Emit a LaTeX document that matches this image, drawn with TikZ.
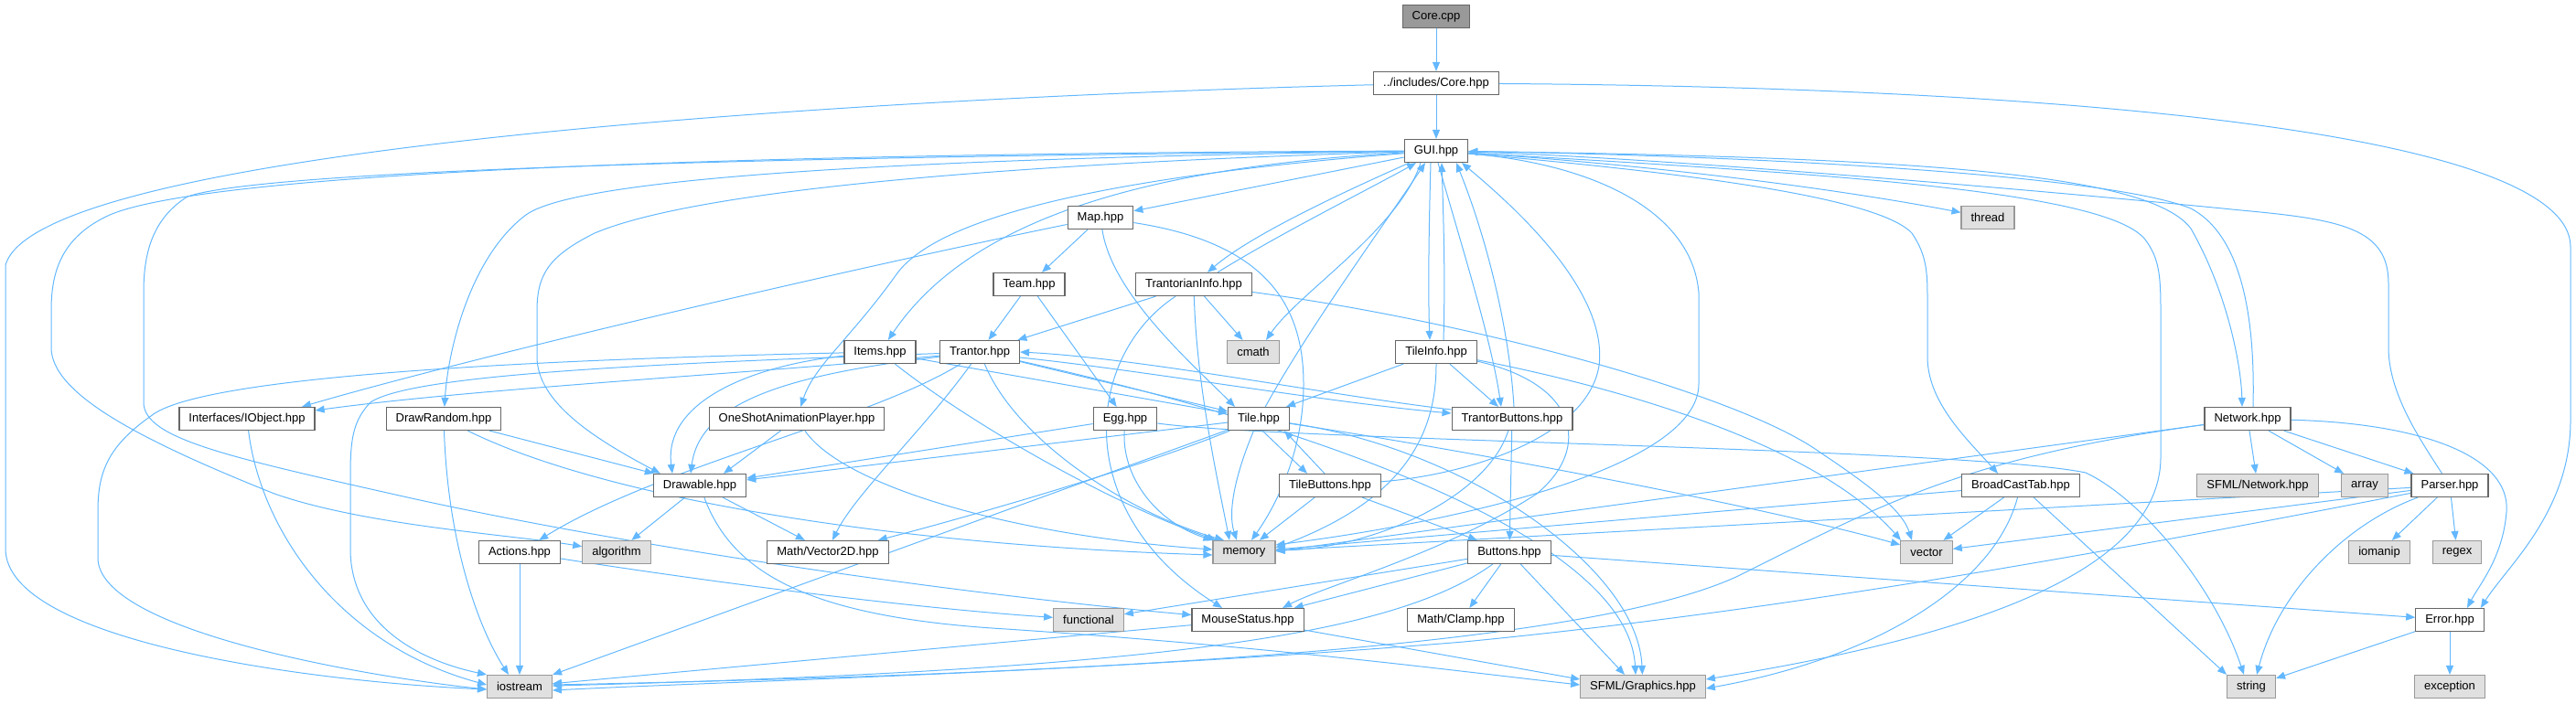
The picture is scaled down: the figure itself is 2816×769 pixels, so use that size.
\documentclass[tikz,border=0pt]{standalone}
\usepackage{fontspec}
\setmainfont{Liberation Sans}
\usetikzlibrary{arrows.meta,backgrounds}
\definecolor{edgeblue}{HTML}{63B8FF}
\definecolor{boxline}{HTML}{666666}
\definecolor{sysfill}{HTML}{E0E0E0}
\definecolor{sysline}{HTML}{999999}

\begin{document}
\begin{tikzpicture}[x=1pt, y=-1pt,
  hdr/.style={draw=boxline, fill=white, line width=1.2pt, font=\fontsize{13}{15}\selectfont,
              inner xsep=10.5pt, inner ysep=0pt, minimum height=25pt},
  sys/.style={hdr, draw=sysline, fill=sysfill},
  src/.style={hdr, fill=sysline},
  ar/.style={draw=edgeblue, line width=1pt, -{Triangle[length=10pt,width=8pt]}},
]
\useasboundingbox (0,0) rectangle (2816,769);

% Fichiers
\node[src] (core) at (1570,18) {Core.cpp};
\node[hdr] (corehpp) at (1570,91) {../includes/Core.hpp};
\node[hdr] (gui) at (1570,165) {GUI.hpp};
\node[hdr] (map) at (1203,238) {Map.hpp};
\node[sys] (thread) at (2173,238) {thread};
\node[hdr] (team) at (1125,311) {Team.hpp};
\node[hdr] (tinfo) at (1305,311) {TrantorianInfo.hpp};
\node[hdr] (items) at (962,385) {Items.hpp};
\node[hdr] (trantor) at (1071,385) {Trantor.hpp};
\node[sys] (cmath) at (1370,385) {cmath};
\node[hdr] (tileinfo) at (1570,385) {TileInfo.hpp};
\node[hdr] (iobject) at (270,458) {Interfaces/IObject.hpp};
\node[hdr] (drawrandom) at (485,458) {DrawRandom.hpp};
\node[hdr] (oneshot) at (871,458) {OneShotAnimationPlayer.hpp};
\node[hdr] (egg) at (1230,458) {Egg.hpp};
\node[hdr] (tile) at (1376,458) {Tile.hpp};
\node[hdr] (tbuttons) at (1653,458) {TrantorButtons.hpp};
\node[hdr] (network) at (2457,458) {Network.hpp};
\node[hdr] (drawable) at (765,531) {Drawable.hpp};
\node[hdr] (tilebuttons) at (1454,531) {TileButtons.hpp};
\node[hdr] (broadcast) at (2209,531) {BroadCastTab.hpp};
\node[sys] (sfnet) at (2468,531) {SFML/Network.hpp};
\node[sys] (array) at (2585,531) {array};
\node[hdr] (parser) at (2678,531) {Parser.hpp};
\node[hdr] (actions) at (568,604) {Actions.hpp};
\node[sys] (algorithm) at (674,604) {algorithm};
\node[hdr] (vector2d) at (905,604) {Math/Vector2D.hpp};
\node[sys] (memory) at (1360,604) {memory};
\node[hdr] (buttons) at (1650,604) {Buttons.hpp};
\node[sys] (vector) at (2106,604) {vector};
\node[sys] (iomanip) at (2601,604) {iomanip};
\node[sys] (regex) at (2686,604) {regex};
\node[sys] (functional) at (1190,678) {functional};
\node[hdr] (mouse) at (1364,678) {MouseStatus.hpp};
\node[hdr] (clamp) at (1597,678) {Math/Clamp.hpp};
\node[hdr] (error) at (2678,678) {Error.hpp};
\node[sys] (iostream) at (568,751) {iostream};
\node[sys] (sfgraphics) at (1796,751) {SFML/Graphics.hpp};
\node[sys] (string) at (2461,751) {string};
\node[sys] (exception) at (2678,751) {exception};

\begin{scope}[on background layer]
% Core
\draw[ar] (core) -- (corehpp);
\draw[ar] (corehpp) -- (gui);
\draw[ar] (corehpp) .. controls (900,108) and (40,165) .. (6,290) -- (6,600) .. controls (6,700) and (330,745) .. ([yshift=-3pt]iostream.west);
\draw[ar] (corehpp) .. controls (2300,96) and (2810,150) .. (2810,270) -- (2810,460) .. controls (2810,560) and (2740,620) .. ([xshift=-4pt]error.north east);

% GUI vers la gauche
\draw[ar] (gui) -- (map);
\draw[ar] (gui) .. controls (1250,183) and (1060,240) .. (items);
\draw[ar] (gui) .. controls (1250,190) and (1030,230) .. (980,300) .. controls (930,370) and (890,400) .. (oneshot);
\draw[ar] (gui) .. controls (1100,172) and (640,188) .. (575,235) .. controls (515,280) and (490,380) .. (drawrandom);
\draw[ar] (gui) .. controls (1200,176) and (780,200) .. (650,255) .. controls (600,280) and (587,300) .. (587,340) -- (587,390) .. controls (587,440) and (650,480) .. ([xshift=8pt]drawable.north west);
\draw[ar] (gui) .. controls (1000,167) and (250,180) .. (120,235) .. controls (65,260) and (56,300) .. (56,340) -- (56,380) .. controls (56,430) and (150,480) .. (300,540) .. controls (400,575) and (560,585) .. (algorithm);
\draw[ar] (gui) .. controls (1000,170) and (300,182) .. (205,215) .. controls (165,240) and (157,280) .. (157,320) -- (157,440) .. controls (157,480) and (250,500) .. (450,545) .. controls (700,600) and (1050,650) .. (mouse);

% GUI vers le bas
\draw[ar] (gui) .. controls (1480,205) and (1370,255) .. ([xshift=15pt]tinfo.north);
\draw[ar] ([xshift=26pt]tinfo.north) .. controls (1400,255) and (1500,205) .. ([xshift=-22pt]gui.south);
\draw[ar] ([xshift=-17pt]gui.south) .. controls (1530,250) and (1420,320) .. ([xshift=14pt]cmath.north);
\draw[ar] (tile) .. controls (1430,360) and (1510,250) .. ([xshift=-12pt]gui.south);
\draw[ar] ([xshift=-6pt]gui.south) .. controls (1562,250) and (1561,320) .. ([xshift=-7pt]tileinfo.north);
\draw[ar] ([xshift=8pt]tileinfo.north) .. controls (1580,300) and (1578,240) .. ([xshift=6pt]gui.south);
\draw[ar] ([xshift=2pt]gui.south) .. controls (1595,260) and (1630,370) .. ([xshift=-12pt]tbuttons.north);
\draw[ar] ([xshift=2pt]tbuttons.north) .. controls (1650,360) and (1625,260) .. ([xshift=22pt]gui.south);
\draw[ar] (tilebuttons) .. controls (1600,520) and (1735,480) .. (1748,400) .. controls (1758,320) and (1660,230) .. ([xshift=28pt]gui.south);

% GUI vers la droite
\draw[ar] (gui) .. controls (1800,180) and (2000,205) .. (thread);
\draw[ar] (gui) .. controls (1750,180) and (1850,235) .. (1857,320) -- (1857,420) .. controls (1857,510) and (1600,570) .. ([yshift=8pt]memory.east);
\draw[ar] (gui) .. controls (1800,185) and (2050,212) .. (2090,255) .. controls (2107,280) and (2107,300) .. (2107,330) -- (2107,390) .. controls (2107,440) and (2150,480) .. ([xshift=-25pt]broadcast.north);
\draw[ar] (gui) .. controls (1950,188) and (2300,205) .. (2345,262) .. controls (2360,282) and (2362,300) .. (2362,340) -- (2362,500) .. controls (2362,640) and (2100,705) .. ([yshift=8pt]sfgraphics.east);
\draw[ar] (gui) .. controls (2100,172) and (2350,190) .. (2395,250) .. controls (2435,320) and (2450,400) .. ([xshift=-6pt]network.north);
\draw[ar] ([xshift=6pt]network.north) .. controls (2465,360) and (2455,260) .. (2395,228) .. controls (2300,190) and (1900,170) .. (gui);
\draw[ar] (parser) .. controls (2645,480) and (2611,430) .. (2611,380) -- (2611,310) .. controls (2611,250) and (2560,240) .. (2450,230) .. controls (2200,205) and (1800,172) .. (gui);

% Map, Team, TrantorianInfo
\draw[ar] (map) -- (team);
\draw[ar] (map) .. controls (900,300) and (500,395) .. ([xshift=60pt]iobject.north);
\draw[ar] (map) .. controls (1215,320) and (1300,395) .. ([xshift=-26pt]tile.north);
\draw[ar] (map) .. controls (1380,265) and (1425,330) .. (1425,420) .. controls (1425,500) and (1390,560) .. ([xshift=8pt]memory.north);
\draw[ar] (team) -- (trantor);
\draw[ar] (team) -- (egg);
\draw[ar] (tinfo) -- (trantor);
\draw[ar] (tinfo) -- (cmath);
\draw[ar] (tinfo) .. controls (1308,420) and (1330,520) .. ([xshift=-16pt]memory.north);
\draw[ar] (tinfo) .. controls (1185,390) and (1170,560) .. ([xshift=-28pt]mouse.north);
\draw[ar] (tinfo) .. controls (1600,350) and (1900,430) .. (1990,495) .. controls (2050,535) and (2080,560) .. ([xshift=-16pt]vector.north);

% Items, Trantor
\draw[ar] (items) .. controls (600,393) and (220,410) .. (165,455) .. controls (115,490) and (107,520) .. (107,560) -- (107,610) .. controls (107,690) and (400,740) .. ([yshift=-3pt]iostream.west);
\draw[ar] (items) .. controls (820,400) and (725,440) .. ([xshift=-30pt]drawable.north);
\draw[ar] (items) -- (tile);
\draw[ar] (items) .. controls (1050,455) and (1200,545) .. ([xshift=4pt]memory.north west);
\draw[ar] (trantor) -- (tile);
\draw[ar] ([yshift=-6pt]trantor.east) .. controls (1250,405) and (1450,440) .. ([yshift=6pt]tbuttons.west);
\draw[ar] ([yshift=10pt]tbuttons.west) .. controls (1450,432) and (1250,392) .. (trantor.east);
\draw[ar] (trantor) .. controls (800,410) and (520,425) .. ([yshift=-4pt]iobject.north east);
\draw[ar] (trantor) .. controls (700,398) and (450,410) .. (405,440) .. controls (386,460) and (383,480) .. (383,520) -- (383,600) .. controls (383,690) and (470,725) .. (iostream.north west);
\draw[ar] (trantor) .. controls (860,410) and (765,440) .. ([xshift=-10pt]drawable.north);
\draw[ar] (trantor) .. controls (950,460) and (720,510) .. (actions);
\draw[ar] (trantor) .. controls (1010,470) and (935,540) .. ([xshift=5pt]vector2d.north);
\draw[ar] (trantor) .. controls (1110,480) and (1230,560) .. ([xshift=-22pt]memory.north);
\draw[ar] (trantor) .. controls (1450,470) and (1780,590) .. ([xshift=-8pt]sfgraphics.north);

% TileInfo, TrantorButtons
\draw[ar] (tileinfo) -- ([xshift=30pt]tile.north);
\draw[ar] (tileinfo) -- ([xshift=-15pt]tbuttons.north);
\draw[ar] (tileinfo) .. controls (1570,470) and (1540,545) .. ([yshift=5pt]memory.east);
\draw[ar] (tileinfo) .. controls (1750,420) and (1980,480) .. ([xshift=-28pt]vector.north);
\draw[ar] (tileinfo) .. controls (1725,420) and (1740,490) .. (1680,540) .. controls (1580,605) and (1450,640) .. ([xshift=38pt]mouse.north);
\draw[ar] (tbuttons) -- (buttons);
\draw[ar] (tbuttons) .. controls (1625,545) and (1500,600) .. ([yshift=2pt]memory.east);

% Tile, Egg, TileButtons
\draw[ar] ([xshift=4pt]tile.south) -- ([xshift=-25pt]tilebuttons.north);
\draw[ar] ([xshift=-6pt]tilebuttons.north) -- ([xshift=28pt]tile.south);
\draw[ar] (tile) -- (drawable);
\draw[ar] (tile) .. controls (1350,520) and (1342,560) .. ([xshift=-8pt]memory.north);
\draw[ar] (tile) .. controls (1250,510) and (1060,565) .. ([xshift=-12pt]vector2d.north east);
\draw[ar] (tile) -- (iostream);
\draw[ar] (tile) .. controls (1600,490) and (1790,620) .. (sfgraphics);
\draw[ar] (tile) .. controls (1650,500) and (1950,560) .. (vector);
\draw[ar] (egg) -- (drawable);
\draw[ar] (egg) .. controls (1226,520) and (1262,570) .. (memory.north west);
\draw[ar] (egg) .. controls (1400,482) and (2150,490) .. (2280,517) .. controls (2340,545) and (2420,640) .. ([xshift=-8pt]string.north);
\draw[ar] (tilebuttons) -- (memory);
\draw[ar] (tilebuttons) -- (buttons);

% Drawable, DrawRandom, OneShotAnimationPlayer, IObject, Actions
\draw[ar] (drawable) -- (algorithm);
\draw[ar] (drawable) -- (vector2d);
\draw[ar] (drawable) .. controls (800,625) and (880,675) .. (1100,688) .. controls (1400,708) and (1600,735) .. ([yshift=2pt]sfgraphics.west);
\draw[ar] (drawrandom) -- (drawable);
\draw[ar] (drawrandom) .. controls (490,600) and (525,690) .. ([xshift=-12pt]iostream.north);
\draw[ar] (drawrandom) .. controls (650,540) and (950,595) .. ([yshift=-3pt]memory.west);
\draw[ar] (oneshot) -- ([xshift=26pt]drawable.north);
\draw[ar] (oneshot) .. controls (920,530) and (1100,585) .. ([yshift=3pt]memory.west);
\draw[ar] (iobject) .. controls (285,580) and (370,705) .. ([yshift=2pt]iostream.west);
\draw[ar] (actions) -- (iostream);
\draw[ar] (actions) .. controls (800,640) and (1000,665) .. (functional);

% Network, Parser, BroadCastTab
\draw[ar] (network) -- (sfnet);
\draw[ar] (network) -- (array);
\draw[ar] (network) -- (parser);
\draw[ar] (network) .. controls (2650,463) and (2745,500) .. (2740,560) .. controls (2736,610) and (2710,640) .. ([xshift=19pt]error.north);
\draw[ar] (network) -- ([yshift=1pt]memory.east);
\draw[ar] (network) .. controls (2150,500) and (2060,550) .. (1900,630) .. controls (1750,700) and (1300,735) .. ([yshift=2pt]iostream.east);
\draw[ar] (parser) -- (iomanip);
\draw[ar] (parser) -- (regex);
\draw[ar] (parser) -- (vector);
\draw[ar] (parser) -- (memory);
\draw[ar] (parser) .. controls (2560,575) and (2490,650) .. ([xshift=6pt]string.north);
\draw[ar] (parser) .. controls (2300,605) and (1950,668) .. (1600,702) .. controls (1200,735) and (800,745) .. ([yshift=-4pt]iostream.east);
\draw[ar] (broadcast) -- (vector);
\draw[ar] (broadcast) -- (memory);
\draw[ar] (broadcast) -- (string.north west);
\draw[ar] (broadcast) .. controls (2180,640) and (2050,720) .. ([yshift=-2pt]sfgraphics.east);

% Buttons, MouseStatus, Error
\draw[ar] (buttons) -- (functional);
\draw[ar] (buttons) -- (mouse);
\draw[ar] (buttons) -- (clamp);
\draw[ar] (buttons) -- ([xshift=-20pt]sfgraphics.north);
\draw[ar] (buttons) .. controls (1530,690) and (1300,732) .. (iostream);
\draw[ar] (buttons) -- (error);
\draw[ar] (mouse) -- (iostream);
\draw[ar] (mouse) -- ([yshift=8pt]sfgraphics.west);
\draw[ar] (error) -- (string);
\draw[ar] (error) -- (exception);
\end{scope}
\end{tikzpicture}
\end{document}
